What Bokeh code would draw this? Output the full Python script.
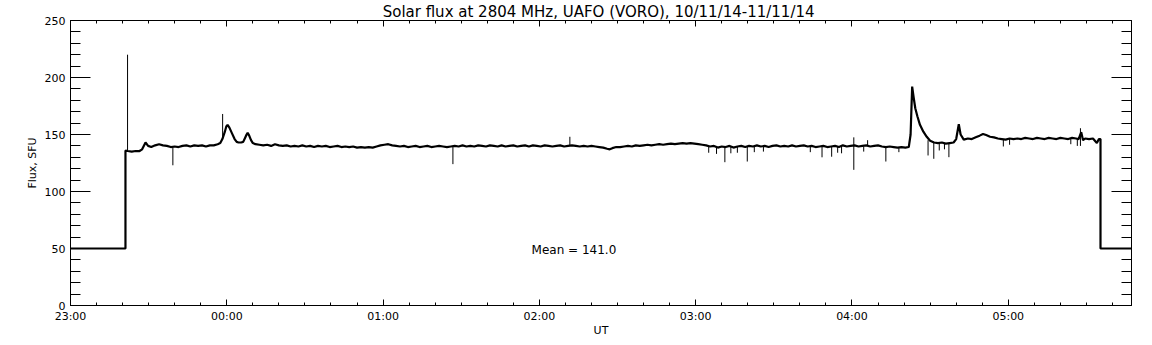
from bokeh.plotting import figure
from bokeh.models import Range1d, LinearAxis, FixedTicker, Title
from bokeh.core.properties import value
from bokeh.embed import file_html
from bokeh.resources import INLINE

# ---- data (minutes after 23:00 UT, flux in SFU) ----
time_min = [0, 21.1, 21.1, 22, 23.5, 25, 26.5, 27.5, 28.8, 29.8, 31, 32.5, 34, 35.5, 37, 38.5, 40, 41.5, 43, 44.5,
            46, 47.5, 49, 50.5, 52, 53.5, 55, 56.5, 57.5, 58.3, 59.2, 59.8, 60.3, 61, 62, 63, 63.8, 64.5, 65.5, 66.3,
            67, 67.6, 68, 68.6, 69.3, 70, 71, 72.5, 74, 75.5, 77, 78.5, 80, 81.5, 83, 84.5, 86, 87.5, 89, 90.5,
            92, 93.5, 95, 96.5, 98, 99.5, 101, 102.5, 104, 105.5, 107, 108.5, 110, 111.5, 113, 114.5, 116, 117.5, 119, 120.5,
            122, 123.5, 125, 126.5, 128, 129.5, 131, 132.5, 134, 135.5, 137, 138.5, 140, 141.5, 143, 144.5, 146, 147.5, 149, 150.5,
            152, 153.5, 155, 156.5, 158, 159.5, 161, 162.5, 164, 165.5, 167, 168.5, 170, 171.5, 173, 174.5, 176, 177.5, 179, 180.5,
            182, 183.5, 185, 186.5, 188, 189.5, 191, 192.5, 194, 195.5, 197, 198.5, 200, 201.5, 203, 204.5, 206, 207, 208, 209.5,
            211, 212.5, 214, 215.5, 217, 218.5, 220, 221.5, 223, 224.5, 226, 227.5, 229, 230.5, 232, 233.5, 235, 236.5, 238, 239.5,
            241, 242.5, 244, 245.5, 247, 248.5, 250, 251.5, 253, 254.5, 256, 257.5, 259, 260.5, 262, 263.5, 265, 266.5, 268, 269.5,
            271, 272.5, 274, 275.5, 277, 278.5, 280, 281.5, 283, 284.5, 286, 287.5, 289, 290.5, 292, 293.5, 295, 296.5, 298, 299.5,
            301, 302.5, 304, 305.5, 307, 308.5, 310, 311.5, 313, 314.5, 316, 317.5, 319, 320.5, 321.8, 322.5, 323.1, 323.7, 324.3, 325.1,
            326.1, 327.4, 328.7, 330, 331.5, 333, 334.5, 336, 337.5, 339, 340, 341, 341.7, 342.9, 344.5, 346, 347.5, 349, 350.3, 351.5,
            353, 354.5, 356, 357.5, 359, 360.5, 362, 363.5, 365, 366.5, 368, 369.5, 371, 372.5, 374, 375.5, 377, 378.5, 380, 381.5,
            383, 384.5, 386, 387, 388, 388.7, 389.5, 391, 392.5, 394, 394.8, 395.4, 395.4, 407.3]
flux_sfu = [50, 50, 136, 135.5, 135, 135.5, 135.5, 137, 143, 140, 139, 140.5, 141.5, 140.5, 140, 139, 139.5, 139, 140, 140.5,
            139.5, 140.5, 140, 140.5, 139.5, 140.5, 140.5, 141.5, 142.5, 146, 152, 157, 158.5, 156, 151, 146, 143.5, 143, 143, 143.5,
            147, 150, 151.5, 149, 145, 142.5, 141.5, 141, 140.5, 141, 140, 141.5, 140.5, 140, 140.5, 139.5, 140, 139.5, 140.5, 139.5,
            140, 139, 140, 139.5, 140, 139, 139.5, 140, 139, 139.5, 139, 139.5, 138.5, 139, 138.5, 139, 138.5, 139.5, 140.5, 141,
            141.5, 140.5, 140, 139.5, 140, 139, 139.5, 140, 139, 139.5, 140, 139, 139.5, 140, 139.5, 139, 139.5, 140, 139.5, 140.5,
            139.5, 140, 139.5, 140.5, 140, 139.5, 140.5, 140, 139.5, 140.5, 139.5, 140, 140.5, 139.5, 140, 140.5, 139.5, 140.5, 140, 139.5,
            140.5, 140, 139.5, 140, 140.5, 139.5, 140, 140.5, 140, 139.5, 140, 139.5, 140, 139.5, 139, 138.5, 137.5, 137, 138, 139,
            139, 139.5, 140, 139.5, 140.5, 140, 140.5, 141, 140.5, 141, 141.5, 141, 141.5, 142, 141.5, 142, 142.5, 142, 142.5, 142,
            141.5, 141, 140.5, 139.5, 140, 138.5, 139.5, 139, 140, 138.5, 139.5, 140, 139, 140, 139.5, 140.5, 139.5, 140, 139, 140,
            140.5, 139.5, 140, 139.5, 140.5, 139.5, 140, 140.5, 139.5, 140, 139, 139.5, 140, 139, 139.5, 140, 139, 140.5, 139.5, 140,
            140.5, 139.5, 140, 140.5, 139.5, 140, 140.5, 139.5, 139, 139.5, 139, 138.5, 139, 138.5, 139, 150, 192, 182, 173, 166,
            158.5, 152.5, 148, 144.5, 143, 142.5, 143, 142, 142.5, 143, 146, 159, 150, 145.5, 146.5, 146, 147.5, 149, 150.5, 149.5,
            148, 147.5, 146.5, 146, 145.5, 146.5, 146, 146.5, 146, 147, 146.5, 146, 147, 146.5, 146, 147, 146.5, 146, 147, 146.5,
            146, 147, 146.5, 146, 152, 145, 146.5, 146, 146.5, 142.5, 146, 146, 50, 50]

# short spikes (minutes, start value, end value)
spike_time = [21.9, 39.3, 58.4, 146.8, 191.7, 251.2, 259.8, 288.5, 292.2, 300.7, 313, 329.2, 331.4, 337.2, 358.1, 387.7,
              245, 248, 253.5, 256, 262.5, 266, 284, 294.5, 296, 304.5, 306, 318, 333.5, 335.5, 360.5, 384, 386.5]
spike_from = [136, 139, 146, 139.5, 140, 139, 139.5, 139.5, 139.5, 119, 139, 145, 143, 142.5, 146, 140,
              139.5, 139.5, 139.5, 139.5, 139.5, 139.5, 139.5, 139.5, 139.5, 139.5, 140, 139, 142.5, 142.5, 146, 146, 146]
spike_to = [220, 123, 168, 124, 148, 125.7, 126.3, 130, 130.5, 147.5, 126.3, 131.6, 128.7, 130.1, 139.5, 155.5,
            134, 133, 133.5, 134, 134.5, 135, 134.5, 134, 133.5, 135, 145, 134.5, 136, 137, 141, 141.5, 140]

x_major = [0, 60, 120, 180, 240, 300, 360]
x_minor = [10, 20, 30, 40, 50, 70, 80, 90, 100, 110, 130, 140, 150, 160, 170, 190, 200, 210, 220, 230,
           250, 260, 270, 280, 290, 310, 320, 330, 340, 350, 370, 380, 390, 400]
x_labels = ["23:00", "00:00", "01:00", "02:00", "03:00", "04:00", "05:00"]
y_major = [0, 50, 100, 150, 200, 250]
y_minor = [10, 20, 30, 40, 60, 70, 80, 90, 110, 120, 130, 140, 160, 170, 180, 190, 210, 220, 230, 240]

title_text = "Solar flux at 2804 MHz, UAFO (VORO),  10/11/14-11/11/14"
mean_text = "Mean =  141.0"
mean_pos = (177, 49)

FONT = "DejaVu Sans"

p = figure(frame_width=1061, frame_height=285, output_backend="svg", toolbar_location=None,
           x_range=Range1d(0, 407.3), y_range=Range1d(0, 250),
           min_border_left=70, min_border_right=13, min_border_top=19, min_border_bottom=41,
           x_axis_label="UT", y_axis_label="Flux, SFU")
p.title = Title(text=title_text, align="center", text_font_size="15px", text_font_style="normal",
                text_font=FONT, text_color="black", standoff=0, offset=0)
p.grid.visible = False
p.outline_line_color = "black"
p.outline_line_width = 1
p.background_fill_color = "white"
p.border_fill_color = "white"

xt = FixedTicker(ticks=x_major, minor_ticks=x_minor)
yt = FixedTicker(ticks=y_major, minor_ticks=y_minor)

def style_x(ax, labels=True):
    ax.ticker = xt
    ax.major_tick_in = 6
    ax.major_tick_out = 0
    ax.minor_tick_in = 3
    ax.minor_tick_out = 0
    ax.axis_line_color = "black"
    ax.major_tick_line_color = "black"
    ax.minor_tick_line_color = "black"
    if labels:
        ax.major_label_overrides = {t: s for t, s in zip(x_major, x_labels)}
        ax.major_label_text_font = FONT
        ax.major_label_text_font_size = "11px"
        ax.major_label_text_color = "black"
        ax.major_label_standoff = 4
        ax.axis_label_text_font = FONT
        ax.axis_label_text_font_size = "11px"
        ax.axis_label_text_font_style = "normal"
        ax.axis_label_text_color = "black"
        ax.axis_label_standoff = -2
    else:
        ax.major_label_text_font_size = "1px"
        ax.major_label_text_color = None
        ax.major_label_standoff = 0

def style_y(ax, labels=True):
    ax.ticker = yt
    ax.major_tick_in = 20
    ax.major_tick_out = 0
    ax.minor_tick_in = 10
    ax.minor_tick_out = 0
    ax.axis_line_color = "black"
    ax.major_tick_line_color = "black"
    ax.minor_tick_line_color = "black"
    if labels:
        ax.major_label_text_font = FONT
        ax.major_label_text_font_size = "11px"
        ax.major_label_text_color = "black"
        ax.major_label_standoff = 5
        ax.axis_label_text_font = FONT
        ax.axis_label_text_font_size = "11px"
        ax.axis_label_text_font_style = "normal"
        ax.axis_label_text_color = "black"
        ax.axis_label_standoff = 3
    else:
        ax.major_label_text_font_size = "1px"
        ax.major_label_text_color = None
        ax.major_label_standoff = 0

style_x(p.xaxis[0])
style_y(p.yaxis[0])

top_ax = LinearAxis()
style_x(top_ax, labels=False)
p.add_layout(top_ax, "above")
right_ax = LinearAxis()
style_y(right_ax, labels=False)
p.add_layout(right_ax, "right")

p.line(time_min, flux_sfu, line_color="black", line_width=2.2)
p.segment(x0=spike_time, y0=spike_from, x1=spike_time, y1=spike_to, line_color="black", line_width=1)

p.text(x=[mean_pos[0]], y=[mean_pos[1]], text=[mean_text], text_font=value(FONT), text_font_size="12px",
       text_color="black", text_align="left", text_baseline="alphabetic")

open("out.html", "w").write(file_html(p, INLINE))
